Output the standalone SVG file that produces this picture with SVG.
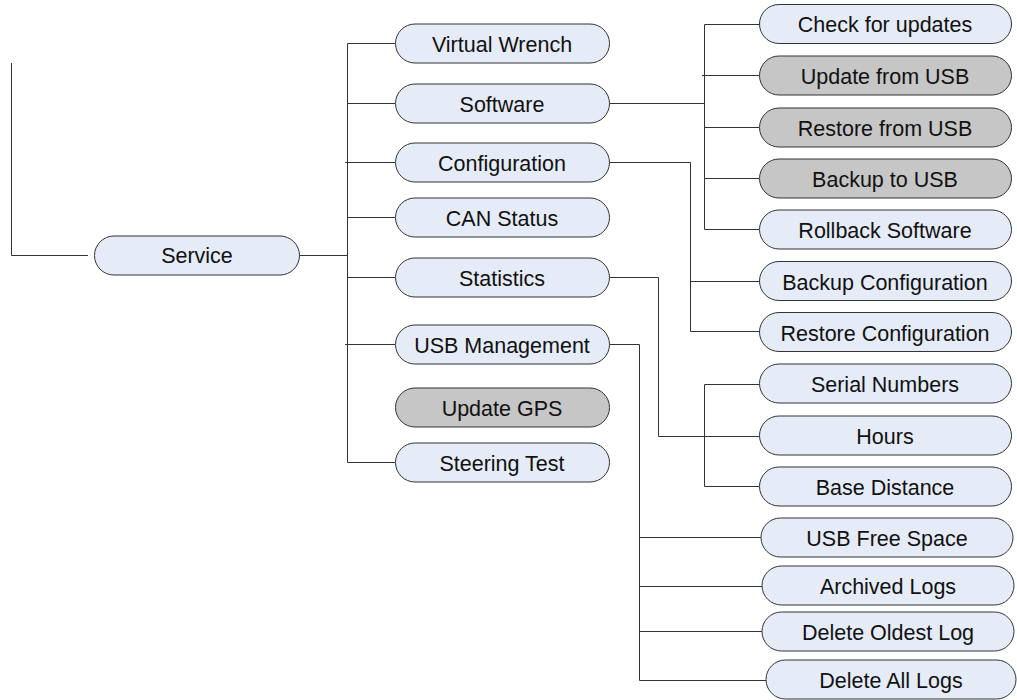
<svg xmlns="http://www.w3.org/2000/svg" width="1017" height="700" viewBox="0 0 1017 700">
<style>
.n rect{fill:#E6ECF7;stroke:#333;stroke-width:1}
.g rect{fill:#C6C6C6;stroke:#333;stroke-width:1}
text{font-family:"Liberation Sans",Arial,sans-serif;font-size:21.5px;fill:#111;text-anchor:middle}
#connectors path{fill:none;stroke:#333;stroke-width:1}
</style>
<rect width="1017" height="700" fill="#fff"/>
<g id="connectors">
<path d="M11.5 63V255.5H88"/>
<path d="M299 255.5H347.5"/>
<path d="M347.5 43.5V462.5"/>
<path d="M347.5 43.5H395M347.5 103.5H395M345 162.5H395M347.5 217.5H395M347.5 277.5H395M345 344.5H395M347.5 462.5H395"/>
<path d="M609 103.5H704.5"/>
<path d="M704.5 24.5V229.5"/>
<path d="M704.5 24.5H759M702 75.5H759M704.5 127.5H759M704.5 178.5H759M704.5 229.5H759"/>
<path d="M609 162.5H690.5V331.5H759M690.5 281.5H759"/>
<path d="M609 277.5H658.5V436.5H759"/>
<path d="M759 384.5H704.5V486.5H759"/>
<path d="M609 344.5H639.5V680.5H766M639.5 537.5H761M639.5 586.5H762M639.5 631.5H762"/>
</g>
<g id="service" class="n"><rect x="94.5" y="236" width="205" height="39" rx="19.5"/><text x="197" y="263">Service</text></g>
<g id="virtual-wrench" class="n"><rect x="395.5" y="24" width="214" height="39" rx="19.5"/><text x="502" y="51.5">Virtual Wrench</text></g>
<g id="software" class="n"><rect x="395.5" y="84" width="214" height="39" rx="19.5"/><text x="502" y="111.5">Software</text></g>
<g id="configuration" class="n"><rect x="395.5" y="143" width="214" height="39" rx="19.5"/><text x="502" y="170.5">Configuration</text></g>
<g id="can-status" class="n"><rect x="395.5" y="198" width="214" height="39" rx="19.5"/><text x="502" y="225.5">CAN Status</text></g>
<g id="statistics" class="n"><rect x="395.5" y="258" width="214" height="39" rx="19.5"/><text x="502" y="285.5">Statistics</text></g>
<g id="usb-management" class="n"><rect x="395.5" y="325" width="214" height="39" rx="19.5"/><text x="502" y="352.5">USB Management</text></g>
<g id="update-gps" class="g"><rect x="395.5" y="388" width="214" height="39" rx="19.5"/><text x="502" y="415.5">Update GPS</text></g>
<g id="steering-test" class="n"><rect x="395.5" y="443" width="214" height="39" rx="19.5"/><text x="502" y="470.5">Steering Test</text></g>
<g id="check-updates" class="n"><rect x="759.5" y="4.5" width="252" height="39" rx="19.5"/><text x="885" y="31.5">Check for updates</text></g>
<g id="update-usb" class="g"><rect x="759.5" y="56" width="252" height="39" rx="19.5"/><text x="885" y="83.5">Update from USB</text></g>
<g id="restore-usb" class="g"><rect x="759.5" y="108" width="252" height="39" rx="19.5"/><text x="885" y="135.5">Restore from USB</text></g>
<g id="backup-usb" class="g"><rect x="759.5" y="159" width="252" height="39" rx="19.5"/><text x="885" y="186.5">Backup to USB</text></g>
<g id="rollback" class="n"><rect x="759.5" y="210" width="252" height="39" rx="19.5"/><text x="885" y="237.5">Rollback Software</text></g>
<g id="backup-config" class="n"><rect x="759.5" y="261.5" width="252" height="39" rx="19.5"/><text x="885" y="289.5">Backup Configuration</text></g>
<g id="restore-config" class="n"><rect x="759.5" y="312.5" width="252" height="39" rx="19.5"/><text x="885" y="340.5">Restore Configuration</text></g>
<g id="serial-numbers" class="n"><rect x="759.5" y="364" width="252" height="39" rx="19.5"/><text x="885" y="391.5">Serial Numbers</text></g>
<g id="hours" class="n"><rect x="759.5" y="416" width="252" height="39" rx="19.5"/><text x="885" y="443.5">Hours</text></g>
<g id="base-distance" class="n"><rect x="759.5" y="467" width="252" height="39" rx="19.5"/><text x="885" y="494.5">Base Distance</text></g>
<g id="usb-free-space" class="n"><rect x="761" y="518" width="252" height="39" rx="19.5"/><text x="887" y="545.5">USB Free Space</text></g>
<g id="archived-logs" class="n"><rect x="762" y="566" width="252" height="39" rx="19.5"/><text x="888" y="593.5">Archived Logs</text></g>
<g id="delete-oldest" class="n"><rect x="762" y="612" width="252" height="39" rx="19.5"/><text x="888" y="639.5">Delete Oldest Log</text></g>
<g id="delete-all" class="n"><rect x="766" y="660" width="250" height="39" rx="19.5"/><text x="891" y="687.5">Delete All Logs</text></g>
</svg>
